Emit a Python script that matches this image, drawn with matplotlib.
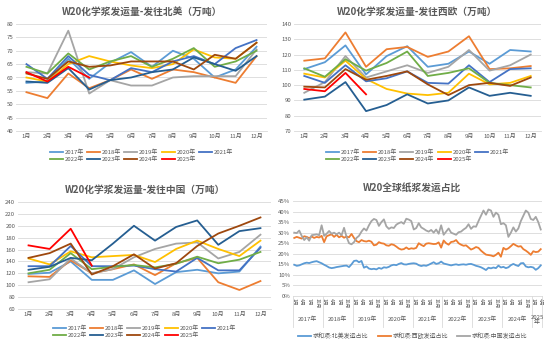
import matplotlib
matplotlib.use("Agg")
import matplotlib.pyplot as plt
import matplotlib.transforms as mtransforms
from matplotlib.ticker import PercentFormatter

plt.rcParams['font.family'] = ['Noto Sans CJK SC', 'DejaVu Sans']

months = ['1月', '2月', '3月', '4月', '5月', '6月', '7月', '8月', '9月', '10月', '11月', '12月']
years = ['2017年', '2018年', '2019年', '2020年', '2021年', '2022年', '2023年', '2024年', '2025年']
colors = ['#5B9BD5', '#ED7D31', '#A5A5A5', '#FFC000', '#4472C4', '#70AD47', '#255E91', '#9E480E', '#FF0000']

# 发往北美 (万吨)
na_2017 = [58, 58.5, 67, 59.5, 65.5, 69.5, 64, 70, 67, 60, 63, 71.5]
na_2018 = [54.5, 52.3, 61.5, 56, 59, 63, 59.5, 63, 62, 60, 58, 68]
na_2019 = [62, 61.5, 77.5, 54, 59, 57, 57, 60, 60.5, 60.5, 60.5, 70.5]
na_2020 = [60, 58.5, 65, 68, 66, 64.5, 63.5, 65, 70.5, 67.5, 67, 73]
na_2021 = [65, 59.5, 68, 61, 59, 63.5, 62, 66, 68, 65, 71, 74]
na_2022 = [64, 61.5, 69, 63, 66, 68, 64, 67, 71, 64, 66, 70]
na_2023 = [58.5, 58, 63.5, 55.5, 59, 60, 62, 63, 67.5, 65, 62.5, 68]
na_2024 = [61.5, 59.5, 66, 64, 64.5, 66, 66, 66, 63, 68.5, 67, 73]
na_2025 = [62, 58.5, 64, 60]

# 发往西欧 (万吨)
we_2017 = [110.5, 115, 126, 107, 119, 125.5, 112, 114, 122, 114, 123, 122]
we_2018 = [116, 117.5, 134.5, 112, 123.5, 125, 118.5, 122, 132, 110.5, 111, 112.5]
we_2019 = [95, 102, 119, 105, 109, 113, 108, 112, 123, 109.5, 113, 120]
we_2020 = [107.5, 105, 116, 104, 97.5, 94.5, 93.5, 95, 107.5, 100.5, 101.5, 106]
we_2021 = [106, 101.5, 113, 102.5, 104.5, 109, 101.5, 101, 113, 102, 110.5, 111]
we_2022 = [111, 105.5, 117, 109.5, 114.5, 122, 106, 108, 111, 101.5, 100, 98.5]
we_2023 = [90.5, 92.5, 102, 83, 87, 94, 88, 90, 98.5, 93, 95, 93]
we_2024 = [99, 98.5, 110.5, 103.5, 106, 109, 100.5, 93.5, 100, 101.5, 99.5, 105]
we_2025 = [97.5, 96, 108, 94]

# 发往中国 (万吨)
cn_2017 = [119, 121, 140, 109, 109, 125, 102, 122, 126, 120, 123, 165]
cn_2018 = [115, 114, 142, 120, 127, 135, 117, 137, 146, 105, 92, 107]
cn_2019 = [105, 110, 145, 120, 127, 147, 161, 170, 172, 145, 156, 185]
cn_2020 = [145, 135, 157, 147, 149, 151, 139, 161, 175, 161, 149, 175]
cn_2021 = [132, 132, 166, 132, 132, 133, 127, 123, 146, 125, 125, 163]
cn_2022 = [120, 126, 154, 127, 131, 134, 130, 136, 148, 137, 143, 156]
cn_2023 = [126, 131, 146, 142, 170, 200, 175, 198, 209, 168, 191, 196]
cn_2024 = [146, 154, 170, 118, 132, 152, 128, 137, 166, 187, 200, 214]
cn_2025 = [167, 161, 195, 133]

# 全球纸浆发运占比 (%), 2017-01 .. 2025-04
share_na = [14.8, 14.3, 14.5, 15.0, 15.5, 15.8, 15.6, 16.0, 16.3, 16.5, 16.0, 15.5,
            14.8, 14.2, 13.5, 13.2, 13.4, 13.7, 13.9, 14.1, 14.3, 14.4, 13.7, 15.0,
            16.6, 16.8, 16.0, 16.6, 13.4, 14.0, 13.0, 12.7, 12.9, 12.6, 13.3, 12.9,
            13.6, 13.4, 13.8, 14.5, 14.8, 14.6, 15.2, 15.6, 15.0, 14.9, 15.2, 15.4,
            15.5, 15.3, 14.6, 14.2, 14.5, 14.3, 14.8, 15.4, 16.0, 15.2, 15.5, 16.3,
            15.4, 15.1, 14.8, 14.5, 14.8, 15.0, 14.7, 14.9, 15.0, 14.8, 15.1, 15.2,
            14.8, 14.3, 14.0, 13.6, 13.0, 12.3, 13.4, 13.1, 13.5, 13.2, 14.4, 13.5,
            13.8, 13.2, 13.6, 14.6, 15.2, 14.6, 14.2, 15.5, 15.6, 14.0, 13.6, 13.8,
            13.5, 12.4, 13.2, 14.5]
share_we = [27.5, 28.0, 27.6, 27.2, 28.3, 28.0, 27.4, 28.2, 27.5, 28.0, 27.7, 28.5,
            25.5, 28.3, 28.8, 29.2, 28.0, 29.0, 27.8, 28.5, 27.6, 28.2, 27.8, 29.4,
            27.5, 26.0, 25.5, 26.5, 26.0, 25.8, 26.2, 25.7, 24.0, 24.3, 25.5, 25.0,
            24.8, 24.0, 23.8, 24.5, 24.2, 23.4, 22.5, 22.0, 22.2, 23.0, 22.2, 22.6,
            22.4, 22.8, 25.0, 24.2, 23.6, 24.8, 25.0, 24.8, 24.6, 24.7, 25.4, 22.9,
            26.3, 25.0, 24.3, 25.6, 25.8, 26.5, 25.0, 24.3, 23.8, 24.0, 23.0, 22.0,
            22.5, 23.2, 22.8, 21.5, 20.5, 19.6, 19.4, 19.2, 18.8, 19.5, 20.5, 18.6,
            22.8, 22.0, 22.6, 23.6, 24.7, 24.0, 23.4, 23.6, 22.2, 21.5, 20.6, 19.5,
            21.2, 20.8, 21.0, 22.2]
share_cn = [30.0, 29.8, 31.0, 28.5, 26.5, 27.8, 26.2, 28.8, 29.0, 29.2, 28.8, 33.5,
            28.5, 29.5, 30.8, 29.5, 30.0, 29.2, 30.0, 28.8, 32.3, 28.0, 25.0, 24.5,
            25.5, 27.5, 28.5, 30.5, 32.0, 31.0, 33.5, 35.5, 36.5, 36.0, 33.2, 35.0,
            36.3, 33.0, 31.8, 32.5, 32.2, 33.8, 34.5, 35.0, 34.2, 36.6, 36.2, 35.5,
            31.5, 32.2, 34.5, 32.5, 31.8, 31.0, 30.5, 31.3, 30.0, 31.5, 29.5, 33.5,
            29.0, 30.5, 32.0, 30.0, 29.5, 29.0, 30.2, 30.5, 31.5, 32.3, 34.0, 31.8,
            33.0, 32.8, 35.5, 38.0, 40.5, 38.5, 41.0, 40.5, 37.5, 39.5, 38.5, 34.0,
            34.5, 33.5, 28.0, 30.0, 32.5, 30.5, 32.0, 35.5, 38.0, 40.5, 39.5, 36.5,
            36.0, 37.5, 35.0, 31.5]
share_names = ['求和项:北美发运占比', '求和项:西欧发运占比', '求和项:中国发运占比']
share_colors = ['#5B9BD5', '#ED7D31', '#A5A5A5']
share_years = ['2017年', '2018年', '2019年', '2020年', '2021年', '2022年', '2023年', '2024年', '2025\n年']

TXT = '#595959'
GRID = '#D9D9D9'


def fr(x0, y0, x1, y1):
    return [x0 / 550, 1 - y1 / 346, (x1 - x0) / 550, (y1 - y0) / 346]


def style(ax):
    for s in ['top', 'right', 'left']:
        ax.spines[s].set_visible(False)
    ax.spines['bottom'].set_color(GRID)
    ax.spines['bottom'].set_linewidth(0.6)
    ax.grid(axis='y', color=GRID, linewidth=0.6)
    ax.set_axisbelow(True)
    ax.tick_params(length=0, labelsize=4.3, labelcolor=TXT, pad=2)


def year_chart(rect, title, series, ylim, ystep, legend_y):
    ax = fig.add_axes(fr(*rect))
    style(ax)
    handles = []
    for vals, name, c in zip(series, years, colors):
        h, = ax.plot(range(len(vals)), vals, color=c, lw=1.3, label=name)
        handles.append(h)
    ax.set_xlim(-0.5, 11.5)
    ax.set_ylim(*ylim)
    ax.set_yticks(range(ylim[0], ylim[1] + 1, ystep))
    ax.set_xticks(range(12))
    ax.set_xticklabels(months)
    cx = (rect[0] + rect[2]) / 2
    fig.text(cx / 550, 1 - (rect[1] - 12) / 346, title, ha='center', va='center',
             fontsize=7, fontweight='bold', color=TXT)
    # row-major order for a 5-column legend
    order = [0, 5, 1, 6, 2, 7, 3, 8, 4]
    fig.legend([handles[i] for i in order], [years[i] for i in order], ncol=5,
               loc='center', bbox_to_anchor=(cx / 550, 1 - legend_y / 346),
               frameon=False, fontsize=4.3, labelcolor=TXT, handlelength=2.2,
               handletextpad=0.3, columnspacing=0.5, labelspacing=0.3)
    return ax


fig = plt.figure(figsize=(5.5, 3.46), dpi=100)

year_chart((16, 24, 267, 131), 'W20化学浆发运量-发往北美（万吨）',
           [na_2017, na_2018, na_2019, na_2020, na_2021, na_2022, na_2023, na_2024, na_2025],
           (40, 80), 5, 156)
year_chart((294, 24, 541, 131), 'W20化学浆发运量-发往西欧（万吨）',
           [we_2017, we_2018, we_2019, we_2020, we_2021, we_2022, we_2023, we_2024, we_2025],
           (70, 140), 10, 156)
year_chart((18, 202, 271, 309), 'W20化学浆发运量-发往中国（万吨）',
           [cn_2017, cn_2018, cn_2019, cn_2020, cn_2021, cn_2022, cn_2023, cn_2024, cn_2025],
           (60, 240), 20, 332)

# share chart
ax4 = fig.add_axes(fr(293, 201, 542, 296))
style(ax4)
n = len(share_na)
for vals, name, c in zip([share_na, share_we, share_cn], share_names, share_colors):
    ax4.plot(range(n), vals, color=c, lw=1.3, label=name)
ax4.set_xlim(-0.5, n - 0.5)
ax4.set_ylim(0, 45)
ax4.set_yticks(range(0, 46, 5))
ax4.yaxis.set_major_formatter(PercentFormatter(decimals=0))
ticks = [i for i in range(n) if i % 3 == 0]
ax4.set_xticks(ticks)
ax4.set_xticklabels([months[i % 12] for i in ticks], rotation=270, fontsize=3.6)
ax4.tick_params(axis='x', pad=1.5)
tr = mtransforms.blended_transform_factory(ax4.transData, ax4.transAxes)
bounds = list(range(0, n, 12)) + [n]
for k, lab in enumerate(share_years):
    x0 = bounds[k] - 0.5
    x1 = bounds[k + 1] - 0.5
    ax4.text((x0 + x1) / 2, -0.25, lab, transform=tr, ha='center', va='center',
             fontsize=4.3, color=TXT, linespacing=1.0)
for b in bounds:
    ax4.plot([b - 0.5, b - 0.5], [0, -0.33], transform=tr, color=GRID, lw=0.6, clip_on=False)
fig.text(412 / 550, 1 - 188 / 346, 'W20全球纸浆发运占比', ha='center', va='center',
         fontsize=7, fontweight='bold', color=TXT)
ax4.legend(ncol=3, loc='center', bbox_to_anchor=(413 / 550, 1 - 336 / 346),
           bbox_transform=fig.transFigure, frameon=False, fontsize=4.3, labelcolor=TXT,
           handlelength=2.2, handletextpad=0.3, columnspacing=1.5)

fig.savefig('out.png', dpi=100)
